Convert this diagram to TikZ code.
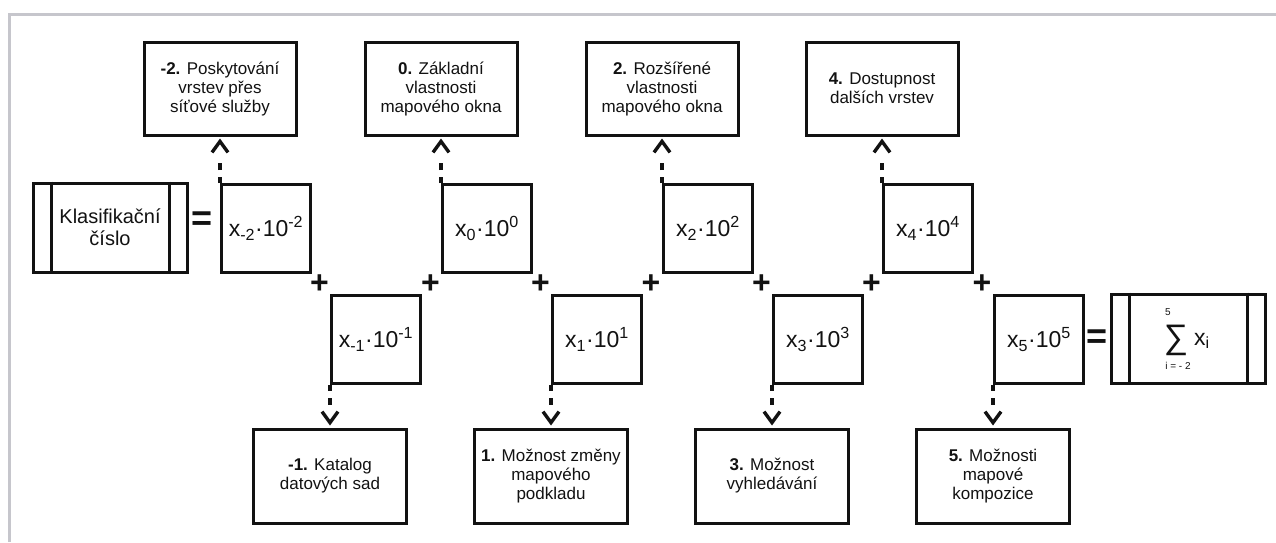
\documentclass[tikz,border=0pt]{standalone}
\usepackage{fontspec}
\setmainfont{Liberation Sans}
\usetikzlibrary{arrows.meta,calc}
\definecolor{frameg}{RGB}{198,198,204}
\definecolor{ink}{RGB}{18,18,18}
\begin{document}
\begin{tikzpicture}[x=1pt,y=-1pt,
  box/.style={draw=ink, line width=3pt, minimum width=152pt, minimum height=93pt, align=center, inner sep=0pt, text=ink, font=\fontsize{17}{19}\selectfont},
  term/.style={draw=ink, line width=3pt, minimum width=89pt, minimum height=88pt, inner sep=0pt, text=ink, anchor=north west, font=\fontsize{23}{26}\selectfont},
  wide/.style={draw=ink, line width=3pt, minimum width=154pt, minimum height=89pt, inner sep=0pt, align=center, text=ink},
  conn/.style={draw=ink, line width=3.4pt, dash pattern=on 6pt off 7pt on 7pt off 40pt, shorten >=2pt, -{Straight Barb[length=11pt,width=16pt]}},
  op/.style={font=\fontsize{32}{32}\bfseries\selectfont, inner sep=0pt, text=ink},
  eqs/.style={font=\fontsize{36}{36}\bfseries\selectfont, inner sep=0pt, text=ink},
  small/.style={font=\fontsize{10}{11}\selectfont, inner sep=0pt, text=ink},
]
\useasboundingbox (0,0) rectangle (1276,542);
\fill[white] (0,0) rectangle (1276,542);
\draw[frameg, line width=3pt] (9.5,542) -- (9.5,14) -- (1276,14);

% top description boxes
\node[box] (bm2) at (220,88.5) {\textbf{-2.} Poskytování\\vrstev přes\\síťové služby};
\node[box] (b0) at (441,88.5) {\textbf{0.} Základní\\vlastnosti\\mapového okna};
\node[box] (b2) at (662,88.5) {\textbf{2.} Rozšířené\\vlastnosti\\mapového okna};
\node[box] (b4) at (882,88.5) {\textbf{4.} Dostupnost\\dalších vrstev};

% bottom description boxes
\node[box, minimum width=153pt, minimum height=94pt] (bm1) at (330,476) {\textbf{-1.} Katalog\\datových sad};
\node[box, minimum width=153pt, minimum height=94pt] (b1) at (551,476) {\textbf{1.} Možnost změny\\mapového\\podkladu};
\node[box, minimum width=153pt, minimum height=94pt] (b3) at (772,476) {\textbf{3.} Možnost\\vyhledávání};
\node[box, minimum width=153pt, minimum height=94pt] (b5) at (993,476) {\textbf{5.} Možnosti\\mapové\\kompozice};

% term boxes
\node[term] (tm2) at (220,183) {x\textsubscript{-2}·10\textsuperscript{-2}};
\node[term] (tm1) at (330,294) {x\textsubscript{-1}·10\textsuperscript{-1}};
\node[term] (t0) at (441,183) {x\textsubscript{0}·10\textsuperscript{0}};
\node[term] (t1) at (551,294) {x\textsubscript{1}·10\textsuperscript{1}};
\node[term] (t2) at (662,183) {x\textsubscript{2}·10\textsuperscript{2}};
\node[term] (t3) at (772,294) {x\textsubscript{3}·10\textsuperscript{3}};
\node[term] (t4) at (882,183) {x\textsubscript{4}·10\textsuperscript{4}};
\node[term] (t5) at (993,294) {x\textsubscript{5}·10\textsuperscript{5}};

% connectors
\draw[conn] (tm2.north west) -- (tm2.north west |- bm2.south);
\draw[conn] (t0.north west) -- (t0.north west |- b0.south);
\draw[conn] (t2.north west) -- (t2.north west |- b2.south);
\draw[conn] (t4.north west) -- (t4.north west |- b4.south);
\draw[conn] (tm1.south west) -- (tm1.south west |- bm1.north);
\draw[conn] (t1.south west) -- (t1.south west |- b1.north);
\draw[conn] (t3.south west) -- (t3.south west |- b3.north);
\draw[conn] (t5.south west) -- (t5.south west |- b5.north);

% plus signs
\node[op] (p1) at (319.5,284) {+};
\node[op] (p2) at (430.5,284) {+};
\node[op] (p3) at (540.5,284) {+};
\node[op] (p4) at (651,284) {+};
\node[op] (p5) at (761.5,284) {+};
\node[op] (p6) at (871.5,284) {+};
\node[op] (p7) at (982,284) {+};

% Klasifikacni cislo
\node[wide, font=\fontsize{20}{22}\selectfont] (k) at (110,227.5) {Klasifikační\\číslo};
\draw[ink, line width=3pt] ($(k.north west)+(20,0)$) -- ($(k.south west)+(20,0)$);
\draw[ink, line width=3pt] ($(k.north east)+(-19,0)$) -- ($(k.south east)+(-19,0)$);
\node[eqs] (eq1) at (202,221) {=};

% sum box
\node[wide] (s) at (1188,338.5) {};
\draw[ink, line width=3pt] ($(s.north west)+(20,0)$) -- ($(s.south west)+(20,0)$);
\draw[ink, line width=3pt] ($(s.north east)+(-19,0)$) -- ($(s.south east)+(-19,0)$);
\node[eqs] (eq2) at (1097,339) {=};
\node[inner sep=0pt, text=ink, font=\fontsize{34}{34}\selectfont] (sig) at (1176,340) {∑};
\node[small] (up) at (1168,312) {5};
\node[small] (lo) at (1178,366) {i = - 2};
\node[inner sep=0pt, text=ink, font=\fontsize{23}{26}\selectfont, anchor=west] (xi) at (1194,341) {x\textsubscript{i}};
\end{tikzpicture}
\end{document}
